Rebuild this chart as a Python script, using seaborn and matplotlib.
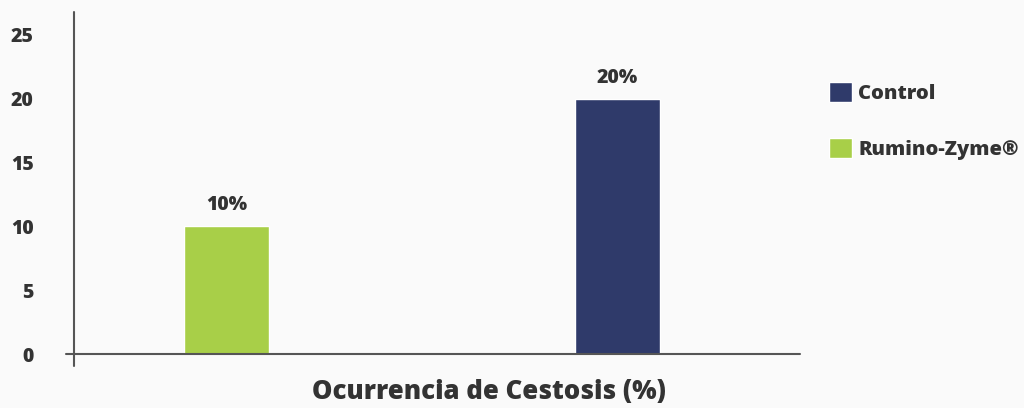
import matplotlib
matplotlib.use("Agg")
import matplotlib.pyplot as plt
import seaborn as sns
import pandas as pd

# Data
groups = ["Rumino-Zyme®", "Control"]
values = [10, 20]
value_labels = ["10%", "20%"]
legend_order = ["Control", "Rumino-Zyme®"]
colors = {"Control": "#2F3A6A", "Rumino-Zyme®": "#A8CF48"}
y_ticks = [0, 5, 10, 15, 20, 25]
x_title = "Ocurrencia de Cestosis (%)"

df = pd.DataFrame({"group": groups, "value": values})

sns.set_theme(style="white")
plt.rcParams["font.family"] = ["Open Sans", "DejaVu Sans"]
TXT = "#333333"
W = 800

fig = plt.figure(figsize=(10.24, 4.08), dpi=100)
fig.patch.set_facecolor("#FAFAFA")
ax = fig.add_axes([74 / 1024, 1 - 354 / 408, (800 - 74) / 1024, (354 - 12) / 408])
ax.set_facecolor("none")

sns.barplot(data=df, x="group", y="value", hue="group", order=groups,
            hue_order=legend_order, palette=colors, dodge=False, width=0.217,
            saturation=1, ax=ax, legend=True)

ax.set_xlim(-0.39, 1.467)
ax.set_ylim(0, 26.8)
ax.set_yticks(y_ticks)
ax.set_yticklabels([str(t) for t in y_ticks], fontsize=14, fontweight=W, color=TXT)
ax.tick_params(axis="y", length=0, pad=29)
ax.set_xticks([])
ax.set_ylabel("")
ax.set_xlabel(x_title, fontsize=18.5, fontweight=W, color=TXT)
ax.xaxis.set_label_coords((489 - 74) / 726, -(392 - 354) / 342)
ax.xaxis.label.set_va("center")

for s in ax.spines.values():
    s.set_visible(False)
# axis lines crossing slightly
ax.plot([0, 0], [-12 / 342, 1], transform=ax.transAxes, color="#555555", lw=1.5, clip_on=False)
ax.plot([-8 / 726, 1], [0, 0], transform=ax.transAxes, color="#555555", lw=1.5, clip_on=False)

for cont in ax.containers:
    labs = []
    for bar in cont:
        h = bar.get_height()
        if h and h == h:
            labs.append(value_labels[values.index(h)])
        else:
            labs.append("")
    ax.bar_label(cont, labels=labs, padding=8, fontsize=14, fontweight=W, color=TXT)

handles, labels = ax.get_legend_handles_labels()
if ax.get_legend() is not None:
    ax.get_legend().remove()
fs = 14.5
leg = fig.legend(handles, labels, loc="upper left", bbox_to_anchor=(829 / 1024, 1 - 82 / 408),
                 bbox_transform=fig.transFigure, frameon=False, borderpad=0, borderaxespad=0,
                 handlelength=1.14, handleheight=1.14, handletextpad=0.3, labelspacing=1.7,
                 prop={"size": fs, "weight": W})
for t in leg.get_texts():
    t.set_color(TXT)

fig.savefig("out.png", dpi=100, facecolor=fig.get_facecolor())
